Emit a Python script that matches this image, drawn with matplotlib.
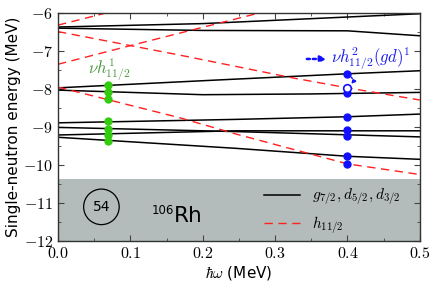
import numpy as np
import matplotlib
matplotlib.use("Agg")
import matplotlib.pyplot as plt
from matplotlib.ticker import MultipleLocator, FuncFormatter

plt.rcParams['mathtext.fontset'] = 'cm'
plt.rcParams['font.family'] = 'DejaVu Sans'

# Routhians: (hbar*omega, energy) points
# g7/2, d5/2, d3/2 (solid black)
gd_lines = [
    ([0.0, 0.2, 0.35, 0.5], [-6.37, -6.28, -6.15, -6.02]),
    ([0.0, 0.2, 0.4, 0.5], [-6.40, -6.46, -6.47, -6.60]),
    ([0.0, 0.224, 0.4, 0.5], [-7.97, -7.76, -7.60, -7.52]),
    ([0.0, 0.2, 0.35, 0.5], [-8.03, -8.15, -8.13, -8.09]),
    ([0.0, 0.245, 0.4, 0.5], [-8.89, -8.80, -8.73, -8.66]),
    ([0.0, 0.245, 0.5], [-9.01, -9.12, -9.26]),
    ([0.0, 0.245, 0.5], [-9.21, -9.10, -9.10]),
    ([0.0, 0.245, 0.4, 0.5], [-9.27, -9.56, -9.77, -9.85]),
]
# h11/2 (dashed red)
h_lines = [
    ([0.0, 0.1], [-6.32, -5.84]),
    ([0.0, 0.104, 0.272, 0.3], [-7.35, -6.84, -6.03, -5.90]),
    ([0.0, 0.166, 0.325, 0.4, 0.5], [-6.49, -7.10, -7.71, -7.97, -8.29]),
    ([0.0, 0.169, 0.245, 0.4, 0.5], [-7.95, -8.76, -9.18, -9.97, -10.25]),
]

# occupied orbitals
green_x = 0.069
green_y = [-7.89, -8.09, -8.27, -8.84, -9.04, -9.21, -9.38]
blue_x = 0.4
blue_y = [-7.60, -8.11, -8.73, -9.07, -9.24, -9.77, -9.97]
blue_open_y = -7.97

fig = plt.figure(figsize=(4.36, 2.88), dpi=100)
ax = fig.add_axes([0.133, 0.163, 0.830, 0.792])

ax.axhspan(-12, -10.37, color='#b3bcbb', zorder=0, lw=0)

for xs, ys in gd_lines:
    ax.plot(xs, ys, color='black', lw=1.1, zorder=2)
for xs, ys in h_lines:
    ax.plot(xs, ys, color='#ff2020', lw=1.0, dashes=(6, 4), zorder=2)

ax.plot([green_x] * len(green_y), green_y, 'o', color='#33cc11', ms=5, zorder=4)
ax.plot([blue_x] * len(blue_y), blue_y, 'o', color='#1010ff', ms=5, zorder=4)
ax.plot([blue_x], [blue_open_y], 'o', mfc='white', mec='#1010ff', mew=1.2, ms=5.5, zorder=4)

ax.text(0.071, -7.5, r'$\nu h^1_{11/2}$', color='#4c9a40', fontsize=12,
        ha='center', va='center')
ax.text(0.377, -7.2, r'$\nu h^2_{11/2}(gd)^1$', color='#1a1aee', fontsize=12,
        ha='left', va='center')
ax.annotate('', xy=(0.375, -7.21), xytext=(0.34, -7.21),
            arrowprops=dict(arrowstyle='-|>', color='#1010ff', lw=1.8,
                            ls=(0, (1.2, 1.2)), mutation_scale=9))
ax.annotate('', xy=(0.404, -7.90), xytext=(0.404, -7.66),
            arrowprops=dict(arrowstyle='-|>', color='#1010ff', lw=1.0,
                            ls=(0, (1.5, 1.5)), mutation_scale=6,
                            connectionstyle='arc3,rad=-0.5',
                            shrinkA=1, shrinkB=1))

ax.text(0.060, -11.1, '54', fontsize=10, ha='center', va='center',
        bbox=dict(boxstyle='circle,pad=0.65', fc='none', ec='black', lw=0.9))
ax.text(0.160, -11.19, '106', fontsize=8.5, ha='right', va='center')
ax.text(0.160, -11.34, 'Rh', fontsize=15.5, ha='left', va='center')

ax.plot([], [], color='black', lw=1.1, label=r'$g_{7/2}, d_{5/2}, d_{3/2}$')
ax.plot([], [], color='#ff2020', lw=1.0, dashes=(6, 4), label=r'$h_{11/2}$')
ax.legend(loc='center left', bbox_to_anchor=(0.53, 0.13), frameon=False,
          fontsize=11, handlelength=2.4, handletextpad=0.8, labelspacing=0.45)

ax.set_xlim(0, 0.5)
ax.set_ylim(-12, -6)
ax.xaxis.set_major_locator(MultipleLocator(0.1))
ax.xaxis.set_minor_locator(MultipleLocator(0.05))
ax.yaxis.set_major_locator(MultipleLocator(1))
ax.yaxis.set_minor_locator(MultipleLocator(0.5))
ax.xaxis.set_major_formatter(FuncFormatter(lambda v, p: r'$%.1f$' % v))
ax.yaxis.set_major_formatter(FuncFormatter(lambda v, p: r'$%d$' % round(v)))
ax.tick_params(which='both', direction='in', top=True, right=True, labelsize=11.5,
               color='#444444')
ax.tick_params(which='major', length=4)
ax.tick_params(which='minor', length=2)
for s in ax.spines.values():
    s.set_linewidth(1.0)
    s.set_color('#333333')

ax.set_xlabel(r'$\hbar\omega$ (MeV)', fontsize=11, labelpad=2)
ax.set_ylabel('Single-neutron energy (MeV)', fontsize=11, labelpad=2)

fig.savefig('out.png', dpi=100)
